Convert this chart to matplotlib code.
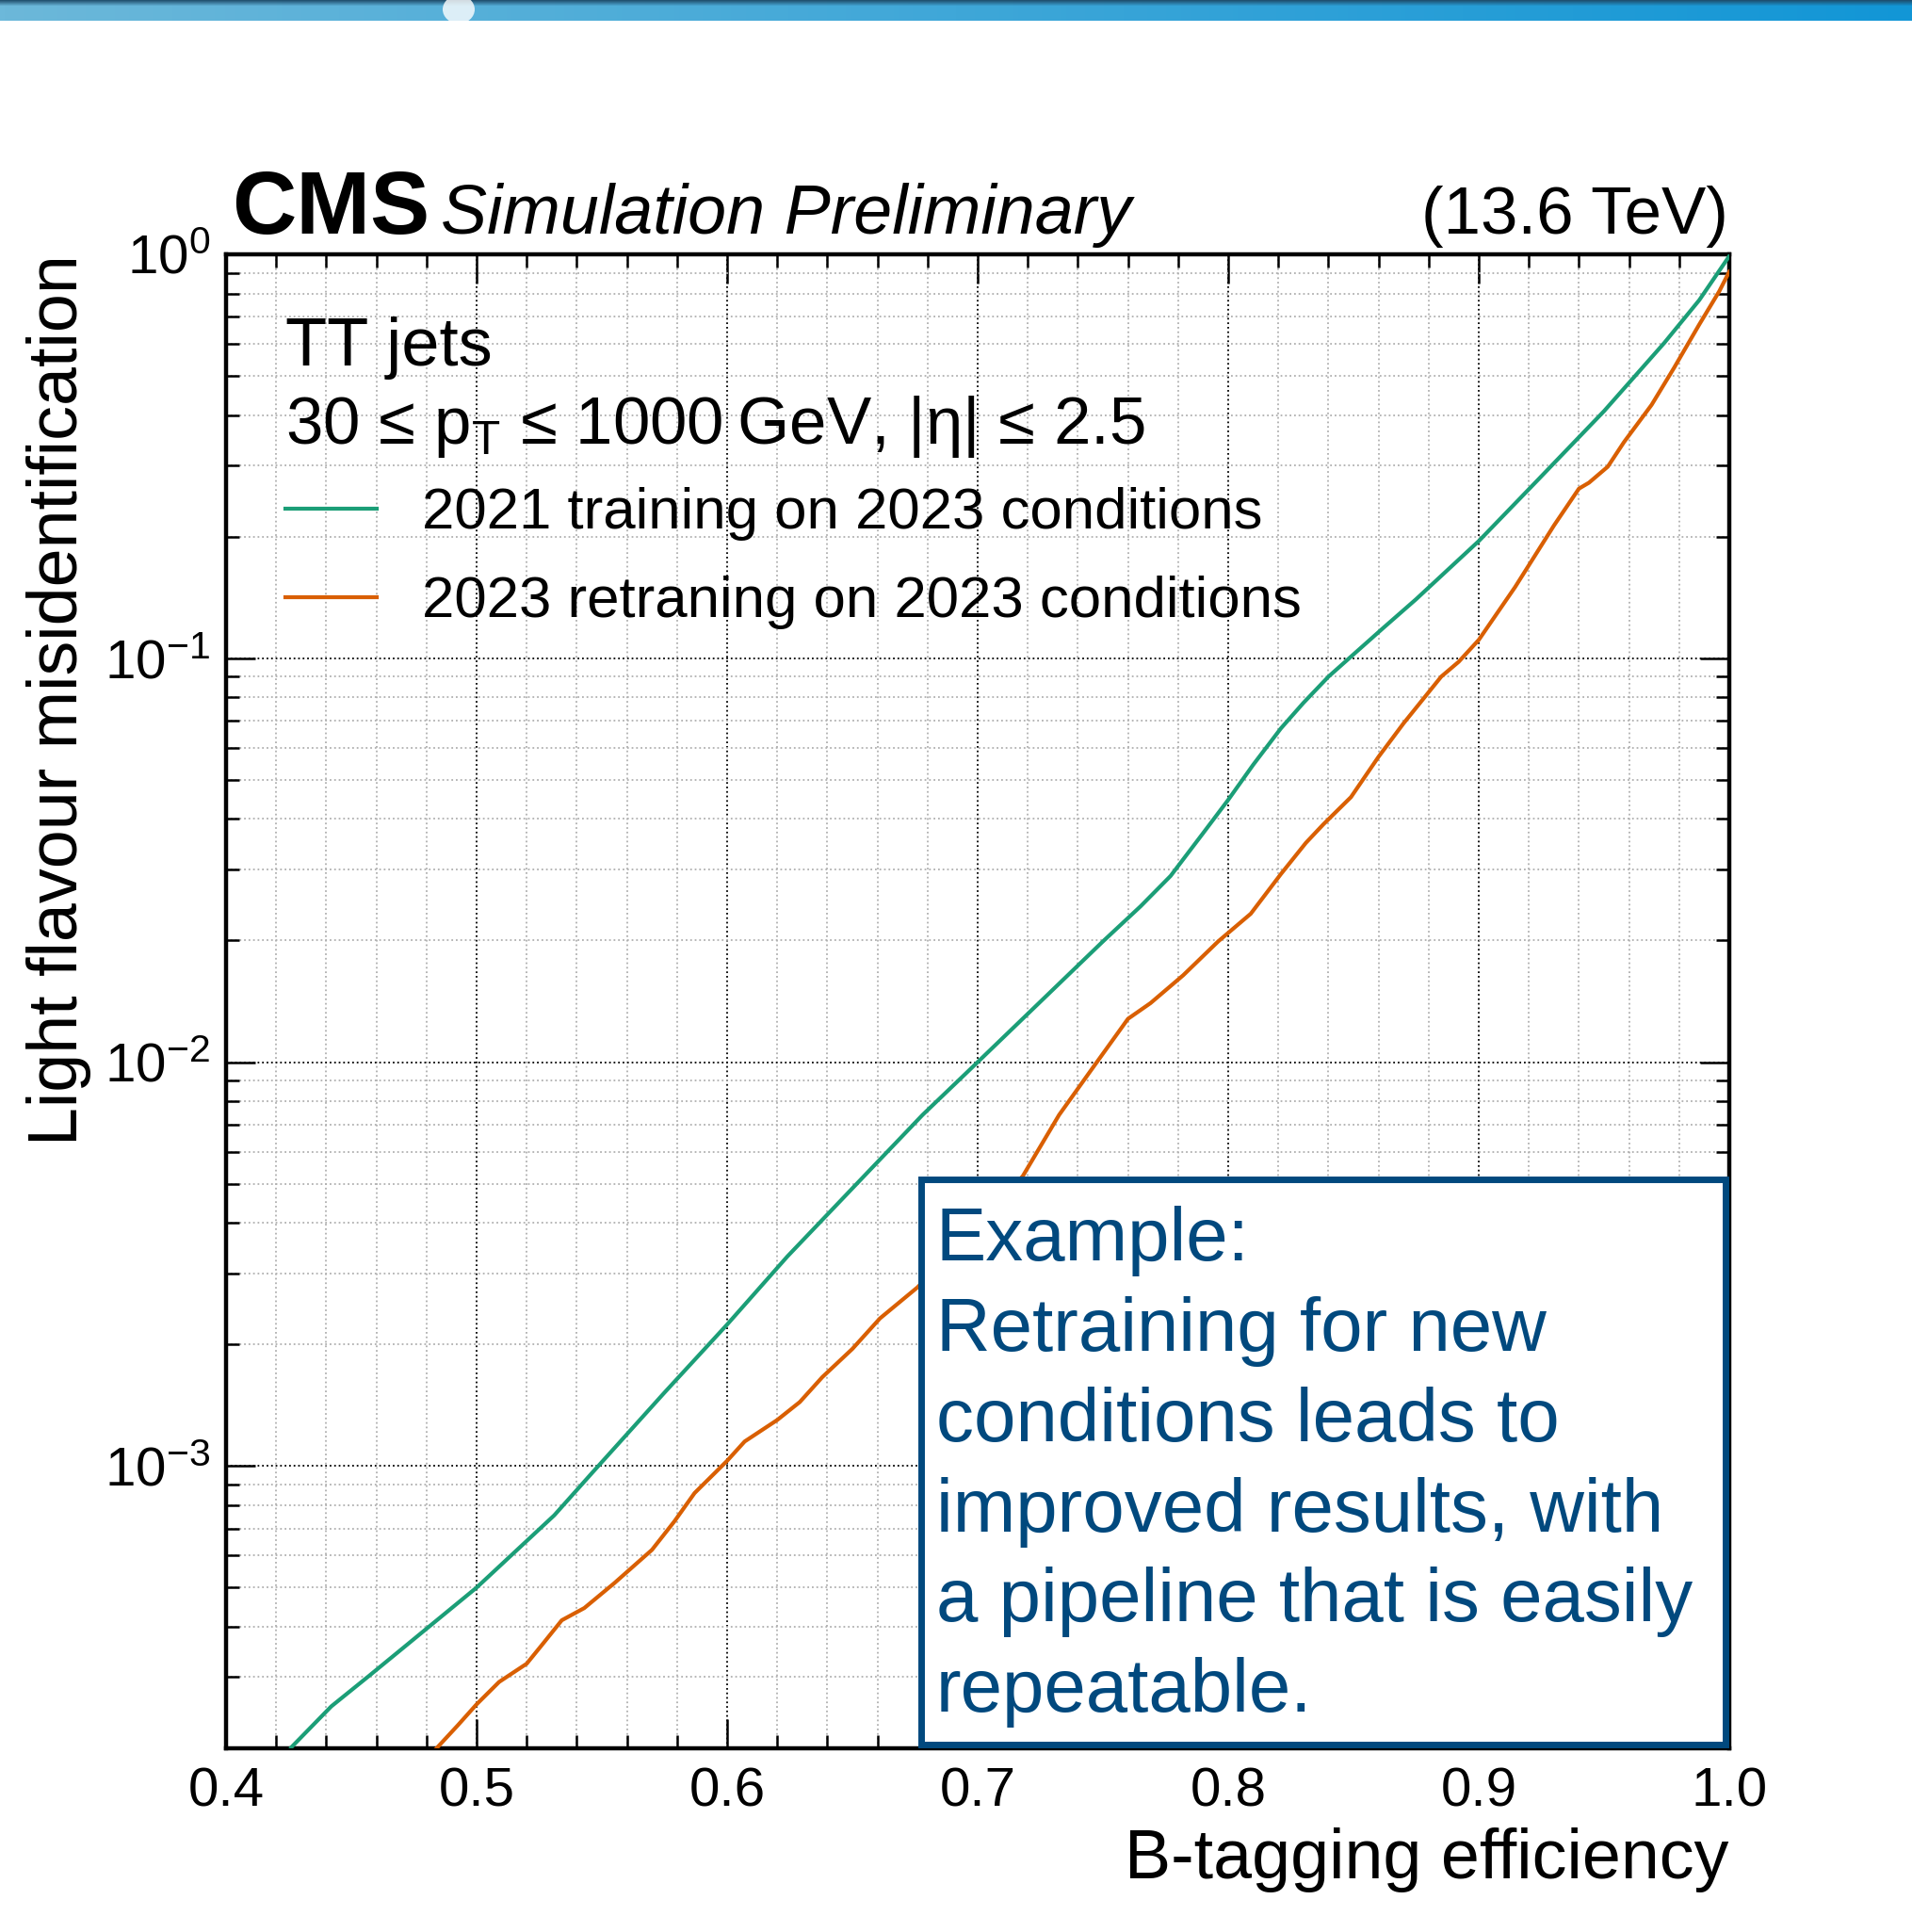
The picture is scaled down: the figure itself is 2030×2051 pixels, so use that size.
import numpy as np
import matplotlib
matplotlib.use('Agg')
import matplotlib.pyplot as plt
from matplotlib.patches import Rectangle, Ellipse
from matplotlib.ticker import MultipleLocator, LogLocator

plt.rcParams['font.family'] = ['Liberation Sans', 'DejaVu Sans']
plt.rcParams['mathtext.fontset'] = 'custom'
plt.rcParams['mathtext.rm'] = 'Liberation Sans'
plt.rcParams['mathtext.it'] = 'Liberation Sans:italic'
plt.rcParams['mathtext.bf'] = 'Liberation Sans:bold'
plt.rcParams['mathtext.default'] = 'regular'

# b-tag efficiency vs light-flavour mistag rate
eff_2021 = [0.426, 0.442, 0.457, 0.472, 0.500, 0.531, 0.546, 0.575, 0.600, 0.624,
            0.650, 0.678, 0.700, 0.728, 0.750, 0.765, 0.777, 0.790, 0.800, 0.810,
            0.821, 0.830, 0.840, 0.851, 0.862, 0.875, 0.900, 0.924, 0.950, 0.974,
            0.988, 1.000]
mis_2021 = [2.01e-4, 2.54e-4, 3.02e-4, 3.60e-4, 5.0e-4, 7.55e-4, 9.6e-4, 1.52e-3, 2.24e-3, 3.3e-3,
            4.87e-3, 7.4e-3, 1.0e-2, 1.47e-2, 1.99e-2, 2.43e-2, 2.89e-2, 3.69e-2, 4.46e-2, 5.45e-2,
            6.7e-2, 7.75e-2, 9.0e-2, 0.1035, 0.119, 0.140, 0.195, 0.278, 0.409, 0.603,
            0.77, 0.99]

eff_2023 = [0.484, 0.4925, 0.500, 0.509, 0.520, 0.526, 0.534, 0.543, 0.555, 0.570,
            0.579, 0.587, 0.600, 0.607, 0.620, 0.629, 0.638, 0.650, 0.661, 0.676,
            0.697, 0.718, 0.7325, 0.745, 0.760, 0.769, 0.782, 0.796, 0.809, 0.821,
            0.831, 0.838, 0.849, 0.860, 0.870, 0.885, 0.892, 0.900, 0.9145, 0.930,
            0.940, 0.944, 0.9515, 0.958, 0.969, 0.978, 0.988, 0.996, 1.000]
mis_2023 = [2.0e-4, 2.28e-4, 2.57e-4, 2.92e-4, 3.24e-4, 3.6e-4, 4.15e-4, 4.45e-4, 5.13e-4, 6.2e-4,
            7.3e-4, 8.57e-4, 1.03e-3, 1.15e-3, 1.30e-3, 1.44e-3, 1.66e-3, 1.95e-3, 2.32e-3, 2.77e-3,
            3.8e-3, 5.22e-3, 7.4e-3, 9.5e-3, 1.28e-2, 1.40e-2, 1.64e-2, 1.99e-2, 2.33e-2, 2.92e-2,
            3.49e-2, 3.88e-2, 4.53e-2, 5.7e-2, 6.9e-2, 9.0e-2, 9.8e-2, 0.111, 0.150, 0.213,
            0.263, 0.272, 0.298, 0.343, 0.424, 0.524, 0.67, 0.81, 0.906]

labels = ['2021 training on 2023 conditions', '2023 retraning on 2023 conditions']
colors = ['#1b9e77', '#d95f02']
box_blue = '#01497e'

W, H = 2030, 2051
fig = plt.figure(figsize=(W / 100, H / 100), dpi=100)

# blue banner at top of slide
bax = fig.add_axes([0, 1 - 22 / H, 1, 22 / H])
nx, ny = 400, 22
t = np.linspace(0, 1, nx)
left_c = np.array([108, 184, 218]) / 255
right_c = np.array([18, 150, 214]) / 255
row = left_c[None, :] * (1 - t[:, None]) + right_c[None, :] * t[:, None]
img = np.repeat(row[None, :, :], ny, axis=0)
dark = np.array([30, 75, 105]) / 255
for j in range(6):
    w = (6 - j) / 6.5
    img[j] = img[j] * (1 - w) + dark * w
bax.imshow(img, aspect='auto', extent=(0, W, ny, 0))
bax.add_patch(Ellipse((487, 10), 34, 30, color='white', alpha=0.8, lw=0))
bax.set_xlim(0, W)
bax.set_ylim(ny, 0)
bax.axis('off')

ax = fig.add_axes([240 / W, 1 - 1856 / H, 1596 / W, 1586 / H])
ax.plot(eff_2021, mis_2021, color=colors[0], lw=3.0, label=labels[0], zorder=3)
ax.plot(eff_2023, mis_2023, color=colors[1], lw=3.0, label=labels[1], zorder=3)
ax.set_yscale('log')
ax.set_xlim(0.4, 1.0)
ax.set_ylim(2e-4, 1)

ax.xaxis.set_major_locator(MultipleLocator(0.1))
ax.xaxis.set_minor_locator(MultipleLocator(0.02))
ax.yaxis.set_major_locator(LogLocator(base=10, numticks=10))
ax.yaxis.set_minor_locator(LogLocator(base=10, subs=np.arange(2, 10), numticks=20))
ax.xaxis.set_major_formatter(matplotlib.ticker.FormatStrFormatter('%.1f'))

ax.tick_params(which='both', direction='in', top=True, right=True, width=1.8)
ax.tick_params(which='major', length=22, labelsize=42)
ax.tick_params(axis='x', which='major', pad=14)
ax.tick_params(axis='y', which='major', pad=12)
ax.tick_params(which='minor', length=10)
for s in ax.spines.values():
    s.set_linewidth(3.2)

ax.grid(which='major', color='black', linestyle=':', linewidth=1.3)
ax.grid(which='minor', color='#b0b0b0', linestyle=':', linewidth=1.3)

ax.set_xlabel('B-tagging efficiency', fontsize=53, loc='right')
ax.set_ylabel('Light flavour misidentification', fontsize=53, loc='top')
ax.xaxis.set_label_coords(1.0, -0.053)
ax.yaxis.set_label_coords(-0.0896, 1.0)

ax.text(0.004, 1.0139, 'CMS', transform=ax.transAxes, fontsize=68,
        fontweight='bold', va='baseline', ha='left')
ax.text(0.1429, 1.0139, 'Simulation Preliminary', transform=ax.transAxes,
        fontsize=53, fontstyle='italic', va='baseline', ha='left')
ax.text(0.999, 1.0139, '(13.6 TeV)', transform=ax.transAxes, fontsize=51,
        va='baseline', ha='right')

ax.text(0.0395, 0.9256, 'TT jets', transform=ax.transAxes, fontsize=52,
        va='baseline', ha='left')
ax.text(0.0395, 0.8733, '30 \u2264 $p_{T}$ \u2264 1000\u2009GeV, |\u03b7| \u2264 2.5',
        transform=ax.transAxes, fontsize=51, va='baseline', ha='left')

ax.legend(loc='upper left', bbox_to_anchor=(0.0395, 0.844), frameon=False,
          fontsize=44.5, borderpad=0, borderaxespad=0, handlelength=1.57,
          handletextpad=0.77, labelspacing=0.6)

box = Rectangle((0.4624, 0.0025), 0.9975 - 0.4624, 0.3808 - 0.0025,
                transform=ax.transAxes, facecolor='white', edgecolor=box_blue,
                linewidth=5, zorder=10, clip_on=False)
ax.add_patch(box)
ax.text(0.4724, 0.3632,
        'Example:\nRetraining for new\nconditions leads to\nimproved results, with\n'
        'a pipeline that is easily\nrepeatable.',
        transform=ax.transAxes, fontsize=57.5, color=box_blue, va='top', ha='left',
        linespacing=1.36, zorder=11)

fig.savefig('out.png', dpi=100)
